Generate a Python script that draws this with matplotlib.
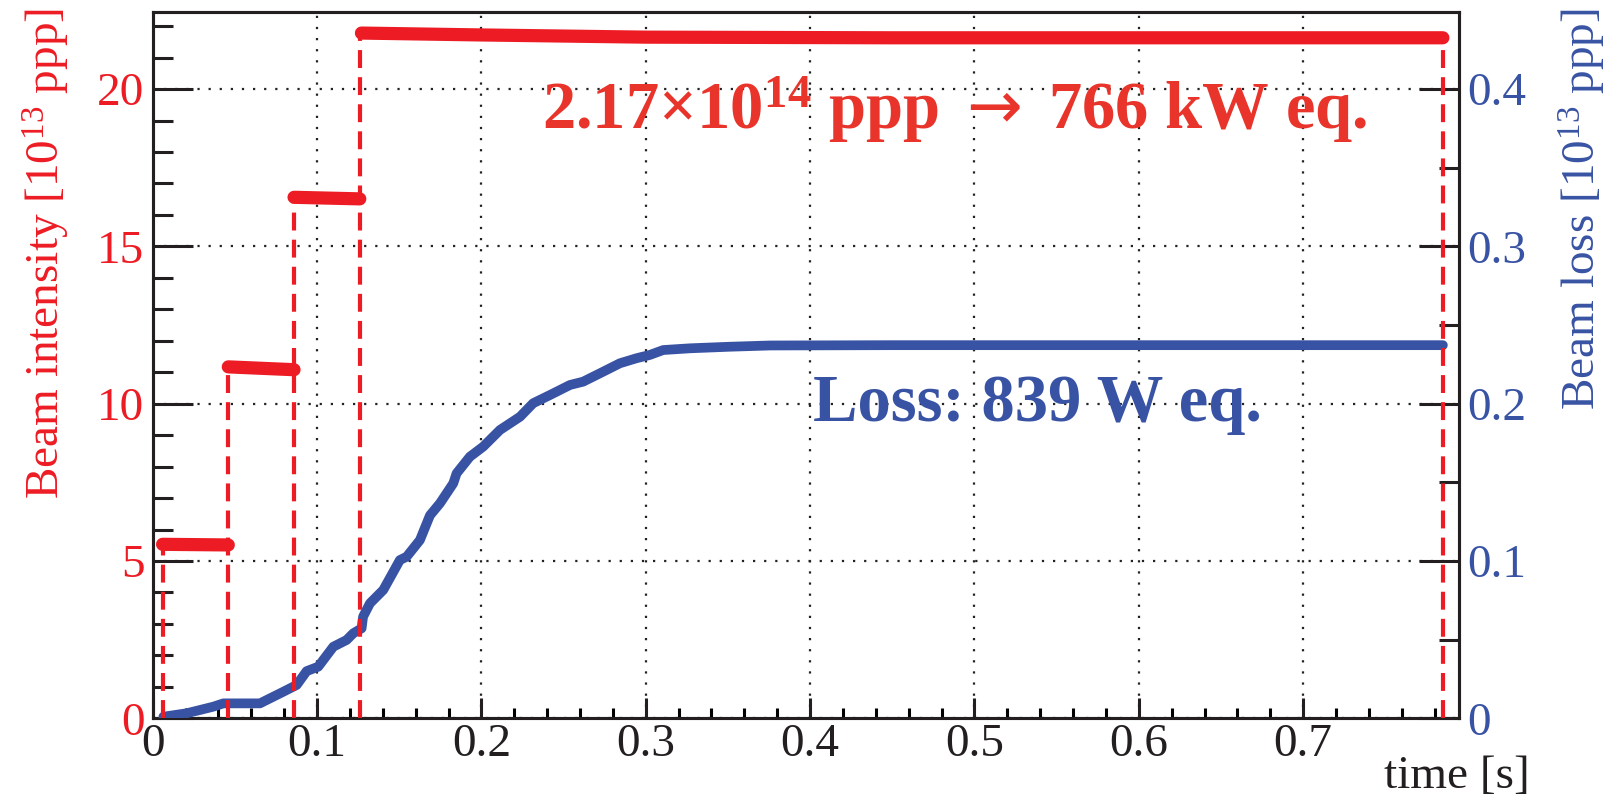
import matplotlib
matplotlib.use("Agg")
import matplotlib.pyplot as plt
from matplotlib.ticker import MultipleLocator

plt.rcParams['font.family'] = ['Liberation Serif', 'DejaVu Serif']
plt.rcParams['mathtext.fontset'] = 'custom'
plt.rcParams['mathtext.rm'] = 'Liberation Serif'
plt.rcParams['mathtext.bf'] = 'Liberation Serif:bold'
plt.rcParams['mathtext.it'] = 'Liberation Serif:italic'
plt.rcParams['mathtext.sf'] = 'DejaVu Sans'

RED = '#ed1c24'
RED_TXT = '#e8342a'
BLUE = '#3953a4'

# ---- data ----
# beam intensity steps [1e13 ppp]
seg1_t = [0.006, 0.046]
seg1_i = [5.53, 5.51]
seg2_t = [0.046, 0.086]
seg2_i = [11.17, 11.08]
seg3_t = [0.086, 0.126]
seg3_i = [16.56, 16.51]
seg4_t = [0.127, 0.2, 0.3, 0.45, 0.6, 0.785]
seg4_i = [21.78, 21.72, 21.65, 21.63, 21.63, 21.63]

# injection / extraction markers (dashed)
mark_t = [0.006, 0.046, 0.086, 0.126, 0.785]
mark_h = [5.53, 11.17, 16.56, 21.78, 21.63]

# beam loss [1e13 ppp]
loss_t = [0.0065, 0.0207, 0.0288, 0.0369, 0.043, 0.059, 0.0653, 0.0693, 0.0795,
          0.0876, 0.0937, 0.1007, 0.1099, 0.118, 0.122, 0.1271, 0.128, 0.1322,
          0.1403, 0.1504, 0.1545, 0.1626, 0.1687, 0.1748, 0.1829, 0.1849,
          0.193, 0.2011, 0.2113, 0.2235, 0.2315, 0.2417, 0.2539, 0.2619,
          0.2721, 0.2843, 0.2944, 0.3025, 0.3106, 0.3268, 0.351, 0.3756,
          0.45, 0.6, 0.785]
loss_v = [0.001, 0.0032, 0.0053, 0.0074, 0.0095, 0.0095, 0.0095, 0.0116, 0.0169,
          0.0212, 0.0300, 0.0328, 0.0455, 0.0498, 0.054, 0.0572, 0.0646, 0.0731,
          0.0816, 0.1006, 0.1027, 0.1133, 0.1290, 0.1367, 0.1494, 0.1557,
          0.1663, 0.1727, 0.1833, 0.1917, 0.2003, 0.2055, 0.2119, 0.2140,
          0.2193, 0.2257, 0.2289, 0.2310, 0.2341, 0.2352, 0.2362, 0.2370,
          0.2372, 0.2372, 0.2372]

fig = plt.figure(figsize=(16.12, 7.97), dpi=100)
ax1 = fig.add_axes([152.7/1612, 1-718.3/797, (1459.3-152.7)/1612, (718.3-12.3)/797])
ax2 = ax1.twinx()

XMAX = 0.795
YMAX = 22.44
ax1.set_xlim(0, XMAX)
ax1.set_ylim(0, YMAX)
ax2.set_ylim(0, YMAX / 50.0)

# grid
ax1.grid(True, which='major', color='#222222', linestyle=(0, (1, 4)), linewidth=1.6)
ax1.set_axisbelow(True)

# intensity steps
for t, i in [(seg1_t, seg1_i), (seg2_t, seg2_i), (seg3_t, seg3_i), (seg4_t, seg4_i)]:
    ax1.plot(t, i, color=RED, linewidth=9.5, solid_capstyle='round', zorder=3)

# loss curve
ax2.plot(loss_t, loss_v, color=BLUE, linewidth=7, solid_capstyle='round',
         solid_joinstyle='round', zorder=3)

# dashed markers (on top of loss curve, in intensity units)
for t, h in zip(mark_t, mark_h):
    ax2.plot([t, t], [0, h], transform=ax1.transData, color=RED, linewidth=3,
             linestyle=(0, (4.3, 2.2)), dash_capstyle='butt', zorder=4)
ax2.set_ylim(0, YMAX / 50.0)

# ticks
ax1.xaxis.set_major_locator(MultipleLocator(0.1))
ax1.xaxis.set_minor_locator(MultipleLocator(0.02))
ax1.yaxis.set_major_locator(MultipleLocator(5))
ax1.yaxis.set_minor_locator(MultipleLocator(1))
ax2.yaxis.set_major_locator(MultipleLocator(0.1))
ax2.yaxis.set_minor_locator(MultipleLocator(0.05))

LS = 34
ax1.tick_params(axis='x', which='major', direction='in', length=14.4, width=2.2,
                labelsize=LS, pad=3.5, colors='#231f20', top=False)
ax1.tick_params(axis='x', which='minor', direction='in', length=7.2, width=2.2, top=False)
ax1.tick_params(axis='y', which='major', direction='in', length=28.8, width=2.2,
                labelsize=LS, pad=6, right=False, color='#231f20', labelcolor=RED)
ax1.tick_params(axis='y', which='minor', direction='in', length=14.4, width=2.2,
                right=False, color='#231f20')
ax2.tick_params(axis='y', which='major', direction='in', length=28.8, width=2.2,
                labelsize=LS, pad=6, left=False, color='#231f20', labelcolor=BLUE)
ax2.tick_params(axis='y', which='minor', direction='in', length=14.4, width=2.2,
                left=False, color='#231f20')

def fmt(v, pos):
    return f"{v:g}"
ax1.xaxis.set_major_formatter(plt.FuncFormatter(fmt))
ax1.yaxis.set_major_formatter(plt.FuncFormatter(fmt))
ax2.yaxis.set_major_formatter(plt.FuncFormatter(fmt))

for ax in (ax1, ax2):
    for sp in ax.spines.values():
        sp.set_linewidth(2.2)
        sp.set_color('#231f20')

# axis titles
fig.text(46/1612, 1-8/797, r'Beam intensity [10$^{13}$ ppp]', rotation=90,
         ha='center', va='top', fontsize=LS, color=RED)
fig.text(1583/1612, 1-8/797, r'Beam loss [10$^{13}$ ppp]', rotation=90,
         ha='center', va='top', fontsize=LS, color=BLUE)
fig.text(1530/1612, 9/797, 'time [s]', ha='right', va='baseline', fontsize=LS,
         color='#231f20')

# annotations
ax1.text(0.237, 18.75, r'2.17×10$^{\mathbf{14}}$ ppp $\mathsf{\rightarrow}$ 766 kW eq.',
         fontsize=48, fontweight='bold', color=RED_TXT, ha='left', va='baseline',
         zorder=5)
ax1.text(0.402, 9.45, 'Loss: 839 W eq.', fontsize=48, fontweight='bold',
         color=BLUE, ha='left', va='baseline', zorder=5)

fig.savefig('out.png', dpi=100)
